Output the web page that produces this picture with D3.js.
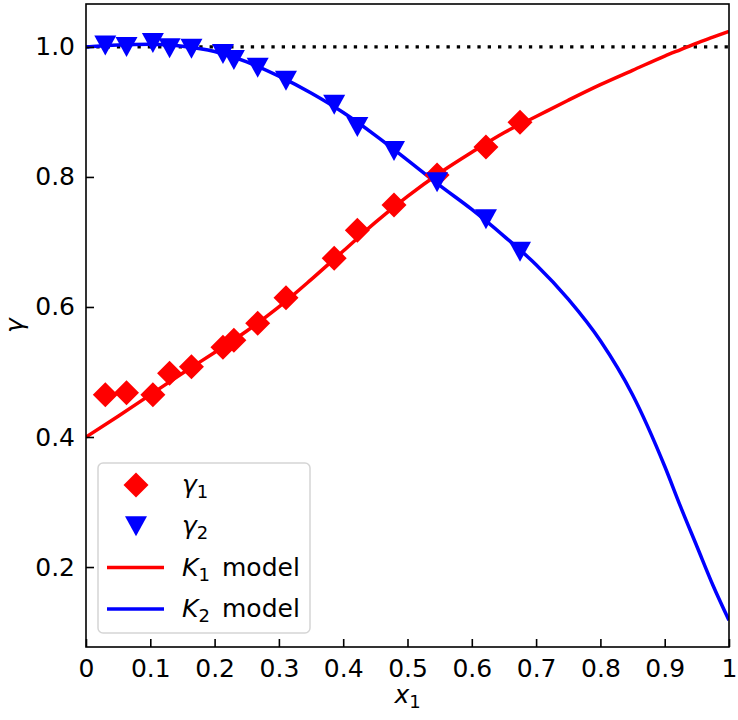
<!DOCTYPE html>
<html>
<head>
<meta charset="utf-8">
<script src="https://cdn.jsdelivr.net/npm/d3@7"></script>
<style>
  body { margin: 0; background: #fff; }
  svg { font-family: "DejaVu Sans", sans-serif; }
</style>
</head>
<body>
<svg width="738" height="720"></svg>
<script>
// observed compositions and activity coefficients
var xObs = [0.030, 0.063, 0.104, 0.130, 0.164, 0.213, 0.230, 0.267, 0.311, 0.386, 0.422, 0.479, 0.546, 0.622, 0.675];
var gamma1 = [0.465, 0.468, 0.465, 0.498, 0.508, 0.538, 0.549, 0.575, 0.614, 0.675, 0.718, 0.757, 0.803, 0.846, 0.884];
var gamma2 = [1.002, 1.000, 1.006, 0.998, 0.997, 0.989, 0.980, 0.968, 0.948, 0.911, 0.877, 0.840, 0.792, 0.735, 0.685];

// model curves
var xModel = [0, 0.05, 0.1, 0.15, 0.2, 0.25, 0.3, 0.35, 0.4, 0.45, 0.5, 0.55, 0.6, 0.65, 0.7, 0.75, 0.8, 0.85, 0.9, 0.925, 0.95, 0.975, 1.0];
var k1Model = [0.400, 0.432, 0.465, 0.498, 0.530, 0.563, 0.600, 0.642, 0.686, 0.730, 0.770, 0.806, 0.838, 0.868, 0.893, 0.918, 0.942, 0.964, 0.986, 0.996, 1.006, 1.015, 1.024];
var k2Model = [1.000, 1.003, 1.004, 1.001, 0.993, 0.977, 0.955, 0.929, 0.899, 0.864, 0.826, 0.787, 0.750, 0.709, 0.665, 0.612, 0.548, 0.465, 0.355, 0.292, 0.232, 0.172, 0.118];

var xTicks = [0, 0.1, 0.2, 0.3, 0.4, 0.5, 0.6, 0.7, 0.8, 0.9, 1];
var xTickLabels = ["0", "0.1", "0.2", "0.3", "0.4", "0.5", "0.6", "0.7", "0.8", "0.9", "1"];
var yTicks = [0.2, 0.4, 0.6, 0.8, 1.0];
var yTickLabels = ["0.2", "0.4", "0.6", "0.8", "1.0"];

var svg = d3.select('svg');
var plot = {l: 86, r: 729, t: 4, b: 647};
var fs = 25;

var xScale = d3.scaleLinear().domain([0, 1]).range([plot.l, plot.r]);
var yScale = d3.scaleLinear().domain([0.077, 1.066]).range([plot.b, plot.t]);

svg.append("defs").append("clipPath")
    .attr("id", "clip")
    .append("rect")
    .attr("x", plot.l).attr("y", plot.t)
    .attr("width", plot.r - plot.l).attr("height", plot.b - plot.t);

var inner = svg.append("g").attr("clip-path", "url(#clip)");

// reference line at gamma = 1
inner.append("line")
    .attr("x1", xScale(0)).attr("x2", xScale(1))
    .attr("y1", yScale(1)).attr("y2", yScale(1))
    .attr("stroke", "black")
    .attr("stroke-width", 3.3)
    .attr("stroke-dasharray", "3.3,7");

var line = d3.line()
    .x(function(d, i) { return xScale(xModel[i]); })
    .y(function(d) { return yScale(d); })
    .curve(d3.curveMonotoneX);

inner.append("path").datum(k1Model)
    .attr("fill", "none").attr("stroke", "red").attr("stroke-width", 3.5)
    .attr("d", line);

inner.append("path").datum(k2Model)
    .attr("fill", "none").attr("stroke", "blue").attr("stroke-width", 3.5)
    .attr("d", line);

var diamond = "M0,-12.5L12.5,0L0,12.5L-12.5,0Z";
var triDown = "M-11,-10L11,-10L0,10Z";

inner.selectAll(".g1")
    .data(gamma1)
    .enter()
    .append("path")
    .attr("class", "g1")
    .attr("d", diamond)
    .attr("fill", "red")
    .attr("transform", (d, i) => "translate(" + [xScale(xObs[i]), yScale(d)] + ")");

inner.selectAll(".g2")
    .data(gamma2)
    .enter()
    .append("path")
    .attr("class", "g2")
    .attr("d", triDown)
    .attr("fill", "blue")
    .attr("transform", (d, i) => "translate(" + [xScale(xObs[i]), yScale(d)] + ")");

// axes, ticks pointing inwards
var xAxis = svg.append("g")
    .attr("transform", "translate(0," + plot.b + ")")
    .call(d3.axisBottom(xScale).tickValues(xTicks).tickSizeInner(-8).tickSizeOuter(0).tickPadding(12)
        .tickFormat((d, i) => xTickLabels[i]));

var yAxis = svg.append("g")
    .attr("transform", "translate(" + plot.l + ",0)")
    .call(d3.axisLeft(yScale).tickValues(yTicks).tickSizeInner(-8).tickSizeOuter(0).tickPadding(11)
        .tickFormat((d, i) => yTickLabels[i]));

[xAxis, yAxis].forEach(function(a) {
  a.select(".domain").remove();
  a.selectAll("line").attr("stroke", "black").attr("stroke-width", 1.6);
  a.selectAll("text").attr("font-size", fs).attr("fill", "black")
    .attr("font-family", "DejaVu Sans");
});

svg.append("rect")
    .attr("x", plot.l).attr("y", plot.t)
    .attr("width", plot.r - plot.l).attr("height", plot.b - plot.t)
    .attr("fill", "none").attr("stroke", "black").attr("stroke-width", 1.6);

// axis labels
var xl = svg.append("text")
    .attr("x", (plot.l + plot.r) / 2).attr("y", 703)
    .attr("text-anchor", "middle").attr("font-size", fs);
xl.append("tspan").attr("font-style", "italic").text("x");
xl.append("tspan").attr("font-size", 18).attr("dy", 5).text("1");

svg.append("text")
    .attr("transform", "translate(" + [23, (plot.t + plot.b) / 2] + ")rotate(-90)")
    .attr("text-anchor", "middle").attr("font-size", fs)
    .attr("font-style", "italic")
    .text("\u03B3");

// legend
var legend = svg.append("g");
legend.append("rect")
    .attr("x", 98).attr("y", 463).attr("width", 212).attr("height", 170)
    .attr("rx", 5)
    .attr("fill", "white").attr("fill-opacity", 0.8)
    .attr("stroke", "#d5d5d5").attr("stroke-width", 1.5);

var rows = [
  {type: "marker", d: diamond, color: "red", sym: "\u03B3", sub: "1", rest: ""},
  {type: "marker", d: triDown, color: "blue", sym: "\u03B3", sub: "2", rest: ""},
  {type: "line", color: "red", sym: "K", sub: "1", rest: "model"},
  {type: "line", color: "blue", sym: "K", sub: "2", rest: "model"}
];

rows.forEach(function(r, i) {
  var cy = 485 + i * 41.3;
  if (r.type === "marker") {
    legend.append("path").attr("d", r.d).attr("fill", r.color)
      .attr("transform", "translate(" + [136, cy] + ")");
  } else {
    legend.append("line").attr("x1", 107).attr("x2", 164).attr("y1", cy).attr("y2", cy)
      .attr("stroke", r.color).attr("stroke-width", 3.5);
  }
  var t = legend.append("text").attr("x", 182).attr("y", cy + 8).attr("font-size", fs);
  t.append("tspan").attr("font-style", "italic").text(r.sym);
  t.append("tspan").attr("font-size", 18).attr("dy", 5).text(r.sub);
  if (r.rest) t.append("tspan").attr("x", 222).attr("dy", -5).text(r.rest);
});
</script>
</body>
</html>
